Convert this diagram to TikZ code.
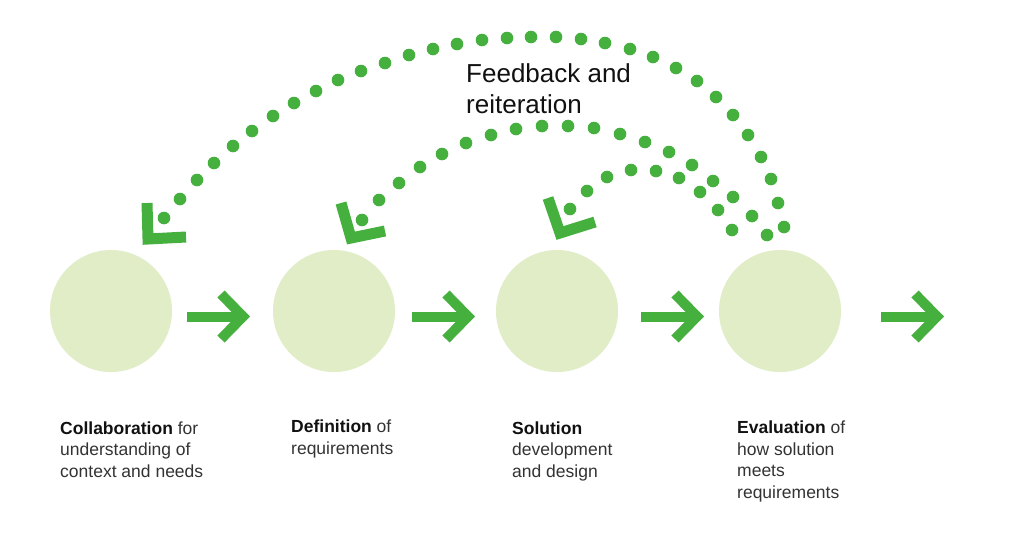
\documentclass[tikz,border=0pt]{standalone}
\usepackage{fontspec}
\setmainfont{Liberation Sans}
\definecolor{fbgreen}{HTML}{46B03E}
\definecolor{circfill}{HTML}{E0EDC7}
\definecolor{txtgray}{HTML}{333333}
\definecolor{txtdark}{HTML}{111111}
\tikzset{
  stage/.style={circle,fill=circfill,minimum size=122pt,inner sep=0pt},
  fwdshaft/.style={draw=fbgreen,line width=10pt},
  chev/.style={draw=fbgreen,line width=10pt,line join=miter,miter limit=10},
  lhead/.style={draw=fbgreen,line width=11pt,line join=miter,miter limit=10},
  fbdot/.style={fill=fbgreen},
  stagetext/.style={inner sep=0pt,align=left,text=txtgray,
    font=\fontsize{17.5}{21.5}\selectfont},
  titletext/.style={inner sep=0pt,align=left,text=txtdark,
    font=\fontsize{26}{31}\selectfont}
}
\begin{document}
\begin{tikzpicture}[x=1pt,y=-1pt]
\useasboundingbox[fill=white] (0,0) rectangle (1024,547);

% stages
\node[stage] (c1) at (111,311) {};
\node[stage] (c2) at (334,311) {};
\node[stage] (c3) at (557,311) {};
\node[stage] (c4) at (780,311) {};

% forward arrows
\foreach \s in {0,225,454,694}{
  \coordinate (fa\s) at (187+\s,316.5);
  \coordinate (fb\s) at (240+\s,316.5);
  \draw[fwdshaft] (fa\s) -- (fb\s);
  \draw[chev] (221+\s,294) -- (243+\s,316.5) -- (221+\s,339);
}

% feedback dotted arcs
\foreach \p in {(164,218),(180,199),(197,180),(214,163),(233,146),(252,131),
  (273,116),(294,103),(316,91),(338,80),(361,71),(385,63),(409,55),(433,49),
  (457,44),(482,40),(507,38),(531,37),(556,37),(581,39),(605,43),(630,49),
  (653,57),(676,68),(697,81),(716,97),(733,115),(748,135),(761,157),(771,179),
  (778,203),(784,227)}
  \fill[fbdot] \p circle (6.3);
\foreach \p in {(362,220),(379,200),(399,183),(420,167),(442,154),(466,143),
  (491,135),(516,129),(542,126),(568,126),(594,128),(620,134),(645,142),
  (669,152),(692,165),(713,181),(733,197),(752,216),(767,235)}
  \fill[fbdot] \p circle (6.3);
\foreach \p in {(570,209),(587,191),(607,177),(631,170),(656,171),(679,178),
  (700,192),(718,210),(732,230)}
  \fill[fbdot] \p circle (6.3);

% arrowheads of the feedback arcs
\draw[lhead] (147,203) -- (148,239) -- (186,237);
\draw[lhead] (341,203) -- (351,238) -- (385,231);
\draw[lhead] (548,198) -- (560,233) -- (595,222);

% texts (base anchor = baseline of the last line)
\node[titletext,anchor=base west] (fbt) at (466,113) {Feedback and\\reiteration};
\node[stagetext,anchor=base west] (t1) at (60,477)
  {\textbf{\color{txtdark}Collaboration} for\\understanding of\\context and needs};
\node[stagetext,anchor=base west] (t2) at (291,454)
  {\textbf{\color{txtdark}Definition} of\\requirements};
\node[stagetext,anchor=base west] (t3) at (512,477)
  {\textbf{\color{txtdark}Solution}\\development\\and design};
\node[stagetext,anchor=base west] (t4) at (737,498)
  {\textbf{\color{txtdark}Evaluation} of\\how solution\\meets\\requirements};
\end{tikzpicture}
\end{document}
